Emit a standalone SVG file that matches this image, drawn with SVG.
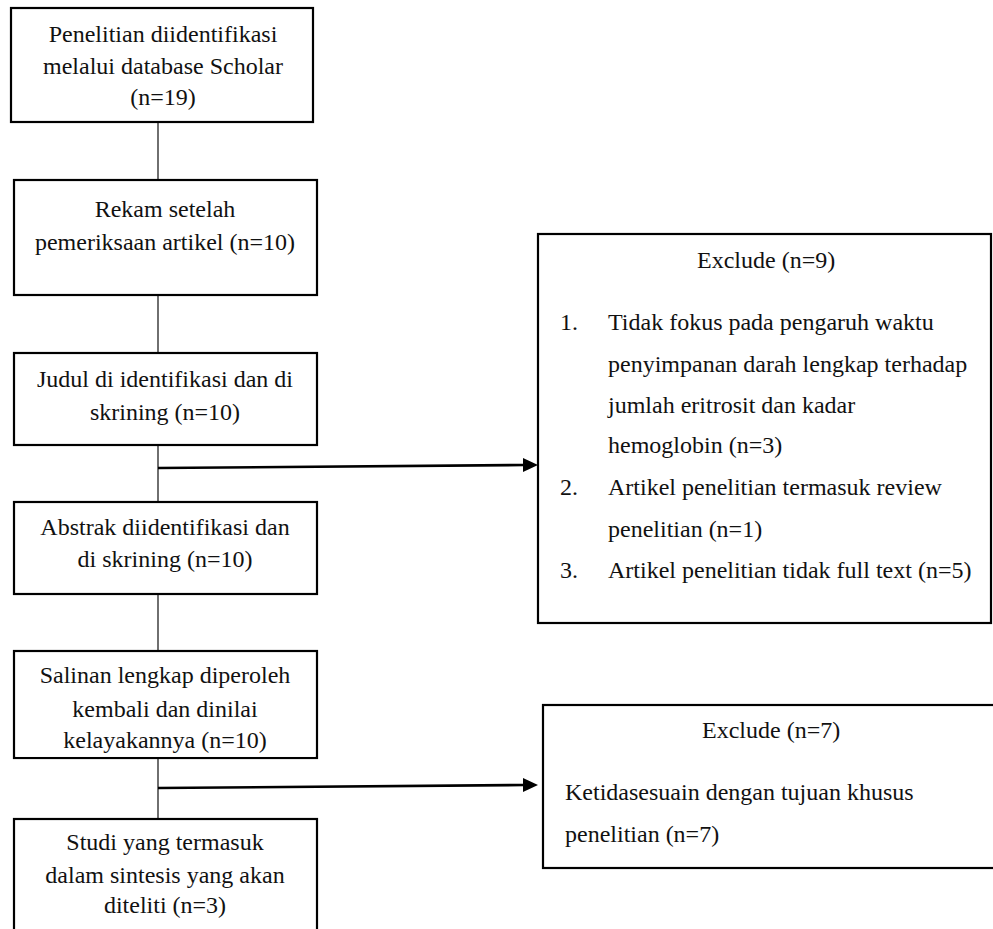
<svg xmlns="http://www.w3.org/2000/svg" width="993" height="929" viewBox="0 0 993 929">
<rect width="993" height="929" fill="#fff"/>
<g id="connectors" fill="none">
  <g stroke="#333" stroke-width="1.4">
    <line x1="158" y1="122" x2="158" y2="180"/>
    <line x1="158" y1="295" x2="158" y2="353"/>
    <line x1="158" y1="445" x2="158" y2="502"/>
    <line x1="158" y1="594" x2="158" y2="651"/>
    <line x1="158" y1="758" x2="158" y2="819"/>
  </g>
  <g stroke="#000" stroke-width="2.6">
    <line x1="158" y1="468" x2="524" y2="465"/>
    <line x1="158" y1="788" x2="524" y2="785"/>
  </g>
  <g fill="#000" stroke="none">
    <polygon points="538,465 523,458 523,472"/>
    <polygon points="538,785 523,778 523,792"/>
  </g>
</g>
<g fill="#fff" stroke="#000" stroke-width="2.2">
  <rect x="11" y="8" width="302" height="114"/>
  <rect x="14" y="180" width="303" height="115"/>
  <rect x="14" y="353" width="303" height="92"/>
  <rect x="14" y="502" width="303" height="92"/>
  <rect x="14" y="651" width="303" height="107"/>
  <rect x="14" y="819" width="303" height="130"/>
  <rect x="538" y="234" width="453" height="389"/>
  <rect x="543" y="705" width="465" height="163"/>
</g>
<g font-family="Liberation Serif" font-size="24" fill="#111">
<g id="n1" text-anchor="middle">
  <text x="163" y="42">Penelitian diidentifikasi</text>
  <text x="163" y="74">melalui database Scholar</text>
  <text x="163" y="105">(n=19)</text>
</g>
<g id="n2" text-anchor="middle">
  <text x="165" y="217">Rekam setelah</text>
  <text x="165" y="250">pemeriksaan artikel (n=10)</text>
</g>
<g id="n3" text-anchor="middle">
  <text x="165" y="387">Judul di identifikasi dan di</text>
  <text x="165" y="420">skrining (n=10)</text>
</g>
<g id="n4" text-anchor="middle">
  <text x="165" y="535">Abstrak diidentifikasi dan</text>
  <text x="165" y="567">di skrining (n=10)</text>
</g>
<g id="n5" text-anchor="middle">
  <text x="165" y="683">Salinan lengkap diperoleh</text>
  <text x="165" y="717">kembali dan dinilai</text>
  <text x="165" y="748">kelayakannya (n=10)</text>
</g>
<g id="n6" text-anchor="middle">
  <text x="165" y="850">Studi yang termasuk</text>
  <text x="165" y="883">dalam sintesis yang akan</text>
  <text x="165" y="913">diteliti (n=3)</text>
</g>
<g id="x1">
  <text x="697" y="268">Exclude (n=9)</text>
  <text x="560" y="330">1.</text>
  <text x="608" y="330">Tidak fokus pada pengaruh waktu</text>
  <text x="608" y="372">penyimpanan darah lengkap terhadap</text>
  <text x="608" y="413">jumlah eritrosit dan kadar</text>
  <text x="608" y="453">hemoglobin (n=3)</text>
  <text x="560" y="495">2.</text>
  <text x="608" y="495">Artikel penelitian termasuk review</text>
  <text x="608" y="537">penelitian (n=1)</text>
  <text x="560" y="578">3.</text>
  <text x="608" y="578">Artikel penelitian tidak full text (n=5)</text>
</g>
<g id="x2">
  <text x="702" y="738">Exclude (n=7)</text>
  <text x="565" y="800">Ketidasesuain dengan tujuan khusus</text>
  <text x="565" y="842">penelitian (n=7)</text>
</g>
</g>
<rect x="16" y="753" width="299" height="3.8" fill="#fff"/>
</svg>
